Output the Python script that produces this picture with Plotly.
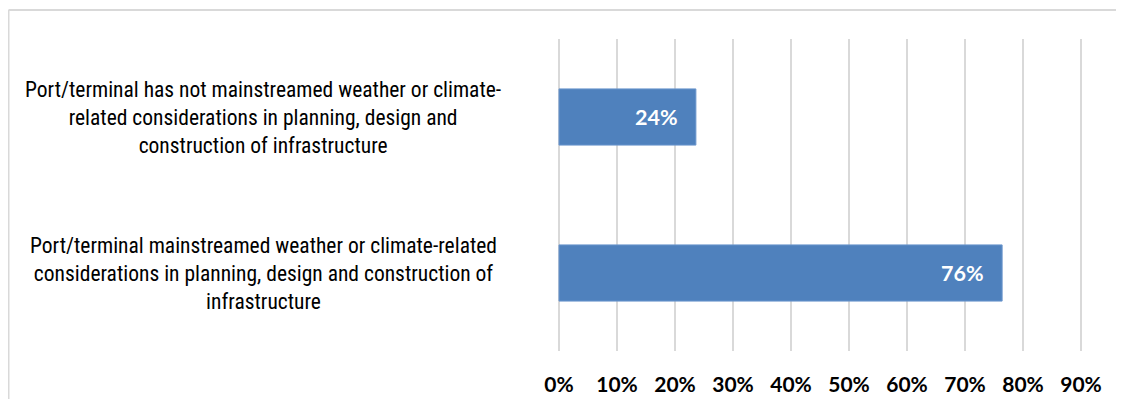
import plotly.graph_objects as go

categories = [
    "Port/terminal has not mainstreamed weather or climate-<br>related considerations in planning, design and<br>construction of infrastructure",
    "Port/terminal mainstreamed weather or climate-related<br>considerations in planning, design and construction of<br>infrastructure",
]
values = [0.236, 0.764]
tick_vals = [0, 0.1, 0.2, 0.3, 0.4, 0.5, 0.6, 0.7, 0.8, 0.9]
tick_text = ["0%", "10%", "20%", "30%", "40%", "50%", "60%", "70%", "80%", "90%"]

# page has an 8px body margin; figure sized to fit window without scrollbars
OFF = 8
W, H = 1124 - 2 * OFF, 407 - 2 * OFF
x0_pix, x90_pix = 559 - OFF, 1081 - OFF      # 0% and 90% gridlines (figure px)
px_per_unit = (x90_pix - x0_pix) / 0.9
pad_px = 2
L = x0_pix - pad_px
R = W - (x90_pix + pad_px)
T = 39 - OFF
B = H - (351 - OFF)
pw = W - L - R
ph = H - T - B
xr = [-pad_px / px_per_unit, 0.9 + pad_px / px_per_unit]

fig = go.Figure()
fig.add_trace(go.Bar(
    x=values, y=categories, orientation="h",
    marker=dict(color="#4F81BD", line=dict(color="#6a95cc", width=1)),
    hoverinfo="skip",
))

label_font = "Roboto Condensed, Liberation Sans Narrow, Arial Narrow, sans-serif"
bold_font = "Lato, Carlito, Calibri, Open Sans, sans-serif"

annotations = []
for c, v in zip(categories, values):
    annotations.append(dict(
        x=(263 - OFF - L) / pw, xref="paper", y=c, yref="y",
        text=c, showarrow=False, xanchor="center", yanchor="middle", align="center",
        font=dict(family=label_font, size=21.5, color="#000000"),
    ))
    annotations.append(dict(
        x=v, xref="x", y=c, yref="y", text=f"<b>{v:.0%}</b>", showarrow=False,
        xanchor="right", yanchor="middle", xshift=-16,
        font=dict(family=bold_font, size=21.5, color="#ffffff"),
    ))

# outer chart-area border (only top and left edges visible)
x_left = (0.5 - L) / pw
x_right = (W - L) / pw
y_top = (H - B - (10 - OFF)) / ph
shapes = [
    dict(type="line", xref="paper", yref="paper", x0=x_left, x1=x_right, y0=y_top, y1=y_top,
         line=dict(color="#d9d9d9", width=2)),
    dict(type="line", xref="paper", yref="paper", x0=x_left, x1=x_left, y0=-B / ph, y1=y_top,
         line=dict(color="#d9d9d9", width=2)),
]

fig.update_layout(
    width=W, height=H, autosize=False,
    margin=dict(l=L, r=R, t=T, b=B, pad=0, autoexpand=False),
    plot_bgcolor="white", paper_bgcolor="white",
    bargap=0.64, showlegend=False,
    annotations=annotations, shapes=shapes,
    xaxis=dict(
        range=xr, tickvals=tick_vals, ticktext=tick_text, automargin=False,
        showgrid=True, gridcolor="#d9d9d9", gridwidth=2,
        zeroline=False, showline=False, ticks="",
        tickfont=dict(family=bold_font, size=21, color="#000000", weight="bold"),
        ticklabelstandoff=19,
    ),
    yaxis=dict(
        autorange="reversed", showticklabels=False, showgrid=False, automargin=False,
        zeroline=False, showline=False, ticks="",
    ),
)

fig.write_html("out.html", config={"displayModeBar": False})
